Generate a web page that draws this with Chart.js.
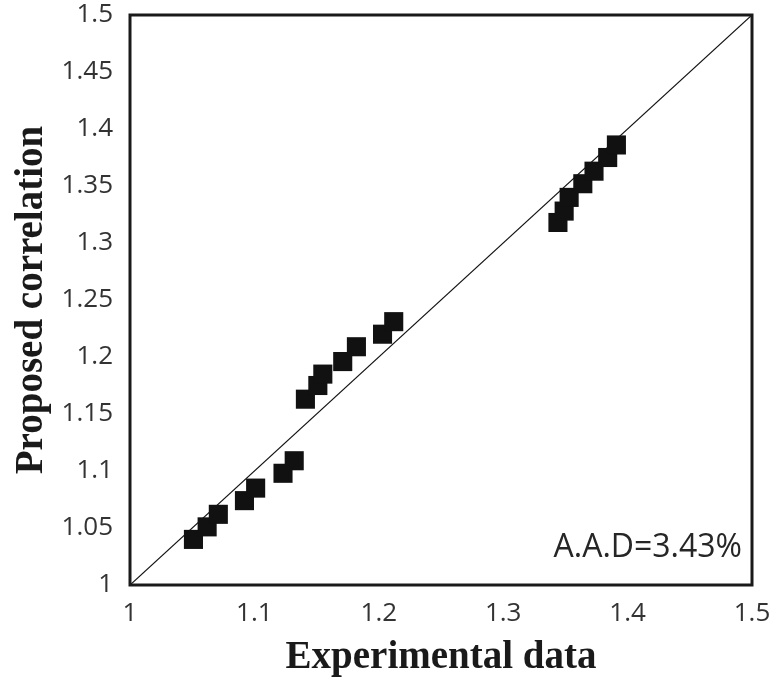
<!doctype html>
<html lang="en">
<head>
    <meta charset="utf-8">
    <title>Proposed correlation vs experimental data</title>
    <script src="https://cdn.jsdelivr.net/npm/chart.js@4"></script>
    <style>
        body { margin: 0; background: #fff; }
        canvas { display: block; }
    </style>
</head>
<body>
<canvas id="myChart" width="777" height="686"></canvas>
<script>
    // values
    var expData = [1.051, 1.062, 1.071, 1.092, 1.101, 1.123, 1.132,
                   1.141, 1.151, 1.155, 1.171, 1.182, 1.203, 1.212,
                   1.344, 1.349, 1.353, 1.364, 1.373, 1.384, 1.391];
    var corrData = [1.040, 1.051, 1.062, 1.074, 1.085, 1.098, 1.109,
                    1.163, 1.175, 1.185, 1.196, 1.209, 1.220, 1.231,
                    1.318, 1.328, 1.340, 1.352, 1.363, 1.375, 1.386];
    var diagX = [1, 1.5];
    var diagY = [1, 1.5];
    var xTickLabels = ['1', '1.1', '1.2', '1.3', '1.4', '1.5'];
    var yTickLabels = ['1', '1.05', '1.1', '1.15', '1.2', '1.25', '1.3', '1.35', '1.4', '1.45', '1.5'];
    var aadText = 'A.A.D=3.43%';
    var aadPos = {x: 1.492, y: 1.0246};

    var points = expData.map(function (v, i) {
        return {x: v, y: corrData[i]};
    });
    var diag = diagX.map(function (v, i) {
        return {x: v, y: diagY[i]};
    });

    var tickFont = {family: "'Open Sans'", size: 26};
    var titleFont = {family: "'Liberation Serif'", size: 39, weight: 'bold'};

    // frame round the plot + the A.A.D note
    var framePlugin = {
        id: 'frame',
        afterDatasetsDraw: function (chart) {
            var a = chart.chartArea;
            var ctx = chart.ctx;
            ctx.save();
            ctx.strokeStyle = '#1a1a1a';
            ctx.lineWidth = 3;
            ctx.strokeRect(a.left, a.top, a.right - a.left, a.bottom - a.top);
            ctx.fillStyle = '#262626';
            ctx.font = "32px 'Open Sans'";
            ctx.textAlign = 'right';
            ctx.textBaseline = 'alphabetic';
            ctx.fillText(aadText,
                chart.scales.x.getPixelForValue(aadPos.x),
                chart.scales.y.getPixelForValue(aadPos.y));
            ctx.restore();
        }
    };

    var ctx = document.getElementById("myChart").getContext('2d');

    var myChart = new Chart(ctx, {
        type: 'scatter',
        data: {
            datasets: [{
                label: 'data',
                data: points,
                pointStyle: 'rect',
                pointRadius: 13.5,
                pointHoverRadius: 13.5,
                pointBorderWidth: 0,
                backgroundColor: '#111',
                borderColor: '#111',
                order: 1
            }, {
                type: 'line',
                label: 'y = x',
                data: diag,
                borderColor: '#111',
                borderWidth: 1.2,
                pointRadius: 0,
                fill: false,
                order: 2
            }]
        },
        options: {
            responsive: false,
            animation: false,
            layout: {autoPadding: false, padding: 0},
            plugins: {
                legend: {display: false},
                tooltip: {enabled: false}
            },
            scales: {
                x: {
                    type: 'linear',
                    min: 1,
                    max: 1.5,
                    grid: {display: false, drawTicks: false},
                    border: {display: false},
                    afterFit: function (scale) {
                        scale.height = 101;
                        scale.paddingLeft = 0;
                        scale.paddingRight = 25;
                    },
                    ticks: {
                        stepSize: 0.1,
                        color: '#333',
                        font: tickFont,
                        padding: 13,
                        maxRotation: 0,
                        callback: function (v, i) { return xTickLabels[i]; }
                    },
                    title: {
                        display: true,
                        text: 'Experimental data',
                        color: '#1a1a1a',
                        font: titleFont,
                        padding: {top: 0, bottom: 5}
                    }
                },
                y: {
                    type: 'linear',
                    min: 1,
                    max: 1.5,
                    grid: {display: false, drawTicks: false},
                    border: {display: false},
                    afterFit: function (scale) {
                        scale.width = 130;
                        scale.paddingTop = 15;
                        scale.paddingBottom = 0;
                    },
                    ticks: {
                        stepSize: 0.05,
                        color: '#333',
                        font: tickFont,
                        padding: 17,
                        callback: function (v, i) { return yTickLabels[i]; }
                    },
                    title: {
                        display: true,
                        text: 'Proposed correlation',
                        color: '#1a1a1a',
                        font: titleFont,
                        padding: {top: 9, bottom: 0}
                    }
                }
            }
        },
        plugins: [framePlugin]
    });
</script>
</body>
</html>
